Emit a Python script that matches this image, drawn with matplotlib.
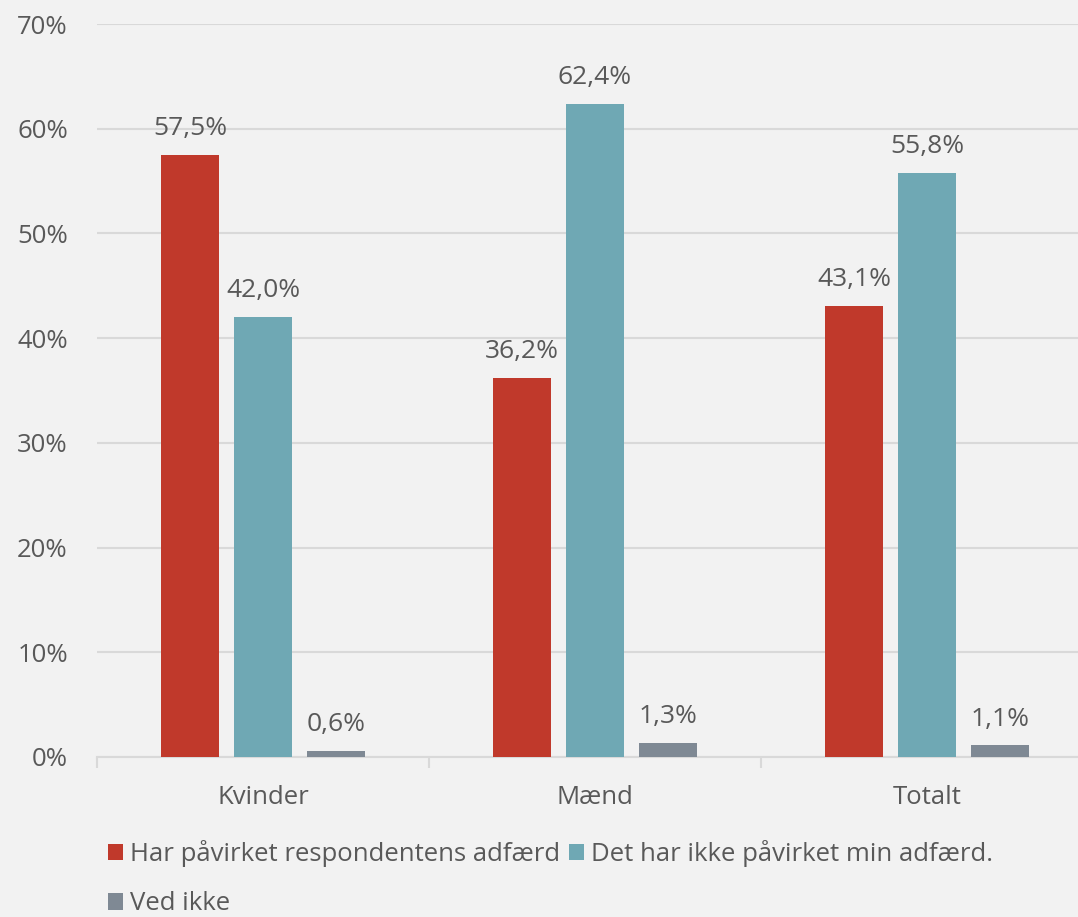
import matplotlib.pyplot as plt
import numpy as np

plt.rcParams['font.family'] = ['Open Sans', 'DejaVu Sans']

groups = ["Kvinder", "Mænd", "Totalt"]
series = ["Har påvirket respondentens adfærd", "Det har ikke påvirket min adfærd.", "Ved ikke"]
values = [
	[57.5, 36.2, 43.1],
	[42.0, 62.4, 55.8],
	[0.6, 1.3, 1.1],
]
colors = ["#c0392b", "#6fa8b4", "#7f8994"]
yticks = [0, 10, 20, 30, 40, 50, 60, 70]

bg = "#f2f2f2"
txt = "#595959"
grid = "#d9d9d9"

W, H = 1078, 917
fig = plt.figure(figsize=(W / 100, H / 100), dpi=100, facecolor=bg)
ax = fig.add_axes([97 / W, 1 - 757 / H, (W - 97) / W, (757 - 24) / H])
ax.set_facecolor(bg)

x = np.arange(len(groups))
width = 0.172
step = 0.22
handles = []
for i, (name, vals, c) in enumerate(zip(series, values, colors)):
	pos = x + (i - 1) * step
	bars = ax.bar(pos, vals, width, color=c, label=name, zorder=3)
	handles.append(bars)
	for b, v in zip(bars, vals):
		ax.annotate("{:.1f}%".format(v).replace(".", ","),
					(b.get_x() + b.get_width() / 2, v),
					xytext=(0, 10), textcoords="offset points",
					ha="center", va="bottom", fontsize=19, color=txt)

ax.set_yticks(yticks)
ax.set_yticklabels(["{}%".format(t) for t in yticks])
ax.yaxis.grid(True, color=grid, linewidth=1.5, zorder=0)
ax.set_axisbelow(True)

ax.set_xticks(x)
ax.set_xticklabels(groups)
ax.set_xticks([-0.5, 0.5, 1.5, 2.5], minor=True)
ax.tick_params(axis="x", which="major", length=0, pad=20, labelsize=18.5, labelcolor=txt)
ax.tick_params(axis="x", which="minor", length=8, width=1.5, color=grid)
ax.tick_params(axis="y", length=0, pad=21, labelsize=18.5, labelcolor=txt)

# one category = 332 px, the plot runs off the right edge
ax.set_ylim(0, 70)
ax.set_xlim(-0.5, (W - 97) / 332 - 0.5)

for s in ["top", "right", "left"]:
	ax.spines[s].set_visible(False)
ax.spines["bottom"].set_color(grid)
ax.spines["bottom"].set_linewidth(1.5)

# column-first fill: put "Ved ikke" under the first entry
order = [0, 2, 1]
leg = fig.legend([handles[i] for i in order], [series[i] for i in order],
				 loc="upper left", bbox_to_anchor=(108 / W, 1 - 840 / H), ncol=2,
				 frameon=False, fontsize=18.5, handlelength=0.6, handleheight=0.6,
				 handletextpad=0.25, columnspacing=0.35, labelspacing=0.95,
				 borderaxespad=0, borderpad=0)
for t in leg.get_texts():
	t.set_color(txt)

fig.savefig("out.png", dpi=100, facecolor=bg)
